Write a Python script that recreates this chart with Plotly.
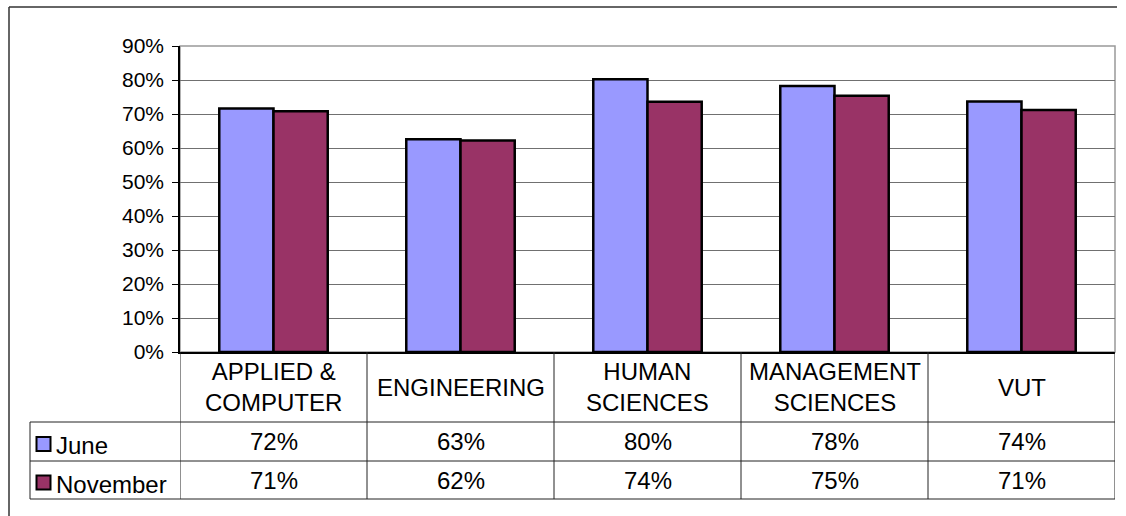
import plotly.graph_objects as go

categories = ["APPLIED &<br>COMPUTER", "ENGINEERING", "HUMAN<br>SCIENCES", "MANAGEMENT<br>SCIENCES", "VUT"]
series_names = ["June", "November"]
june = [0.716, 0.626, 0.802, 0.782, 0.737]
november = [0.708, 0.622, 0.736, 0.754, 0.712]
series_values = [june, november]
series_colors = ["#9999FF", "#993366"]
y_ticks = [0, 0.1, 0.2, 0.3, 0.4, 0.5, 0.6, 0.7, 0.8, 0.9]

W, H = 1126, 516
FONT = "Liberation Sans, Arial, sans-serif"
TICK_SIZE = 21
TABLE_SIZE = 24

def px(x):
    return x / W

def py(y):
    return 1 - y / H

PL, PR, PT, PB = 180, 1115, 46, 352
ROW1, ROW2, ROW3 = 422, 461, 499
TL = 30

fig = go.Figure()
xidx = list(range(len(categories)))
for name, vals, col in zip(series_names, series_values, series_colors):
    fig.add_trace(go.Bar(
        x=xidx, y=vals, name=name,
        marker=dict(color=col, line=dict(color="black", width=2.5)),
        hoverinfo="skip",
    ))

fig.update_layout(
    width=W, height=H, autosize=False,
    margin=dict(l=0, r=0, t=0, b=0, pad=0, autoexpand=False),
    paper_bgcolor="white", plot_bgcolor="white",
    barmode="group", bargap=0.42, bargroupgap=0,
    showlegend=False,
    font=dict(family=FONT, color="black"),
    xaxis=dict(
        domain=[px(PL), px(PR)], range=[-0.5, len(categories) - 0.5],
        showticklabels=False, ticks="", showgrid=False, zeroline=False,
        showline=True, linecolor="black", linewidth=1.5, automargin=False,
    ),
    yaxis=dict(
        domain=[py(PB), py(PT)], range=[0, 0.9],
        tickvals=y_ticks, tickformat=".0%",
        ticks="outside", ticklen=6, tickcolor="black", tickwidth=1,
        ticklabelstandoff=4, automargin=False,
        tickfont=dict(family=FONT, size=TICK_SIZE, color="black"),
        showgrid=True, gridcolor="#707070", gridwidth=1.2,
        zeroline=False, showline=True, linecolor="black", linewidth=1.5,
    ),
)

shapes = []
shapes.append(dict(type="rect", xref="x domain", yref="y domain", x0=0, x1=1, y0=0, y1=1,
                   line=dict(color="#999999", width=1.5), layer="below"))
shapes.append(dict(type="line", xref="paper", yref="paper", x0=px(9), x1=px(9), y0=py(7), y1=0,
                   line=dict(color="#333333", width=1.5)))
shapes.append(dict(type="line", xref="paper", yref="paper", x0=px(9), x1=px(1117), y0=py(7), y1=py(7),
                   line=dict(color="#333333", width=1.5)))
tl = dict(color="#222222", width=1)
for i in range(len(categories) + 1):
    shapes.append(dict(type="line", xref="x", yref="paper", x0=i - 0.5, x1=i - 0.5,
                       y0=py(PB), y1=py(ROW3), line=tl))
shapes.append(dict(type="line", xref="paper", yref="paper", x0=px(TL), x1=px(TL),
                   y0=py(ROW1), y1=py(ROW3), line=tl))
for yy in (ROW1, ROW2, ROW3):
    shapes.append(dict(type="line", xref="paper", yref="paper", x0=px(TL), x1=px(PR),
                       y0=py(yy), y1=py(yy), line=tl))

annotations = []
cat_y = (PB + ROW1) / 2
for i, c in enumerate(categories):
    annotations.append(dict(x=i, xref="x", y=py(cat_y), yref="paper", text=c, showarrow=False,
                            font=dict(family=FONT, size=TABLE_SIZE, color="black"), align="center",
                            xanchor="center", yanchor="middle"))
row_centers = [(ROW1 + ROW2) / 2, (ROW2 + ROW3) / 2]
for (name, vals, col, rc) in zip(series_names, series_values, series_colors, row_centers):
    shapes.append(dict(type="rect", xref="paper", yref="paper",
                       x0=px(36.5), x1=px(50.5), y0=py(rc - 4.5), y1=py(rc + 9.5),
                       fillcolor=col, line=dict(color="black", width=2)))
    annotations.append(dict(x=px(54), xref="paper", y=py(rc + 4), yref="paper", text=name,
                            showarrow=False, font=dict(family=FONT, size=TABLE_SIZE, color="black"),
                            xanchor="left", yanchor="middle"))
    for i, v in enumerate(vals):
        annotations.append(dict(x=i, xref="x", y=py(rc), yref="paper", text=f"{v:.0%}",
                                showarrow=False, font=dict(family=FONT, size=TABLE_SIZE, color="black"),
                                xanchor="center", yanchor="middle"))

fig.update_layout(shapes=shapes, annotations=annotations)
fig.write_html("out.html", config={"displayModeBar": False},
               post_script="document.body.style.margin='0';document.body.style.overflow='hidden';")
